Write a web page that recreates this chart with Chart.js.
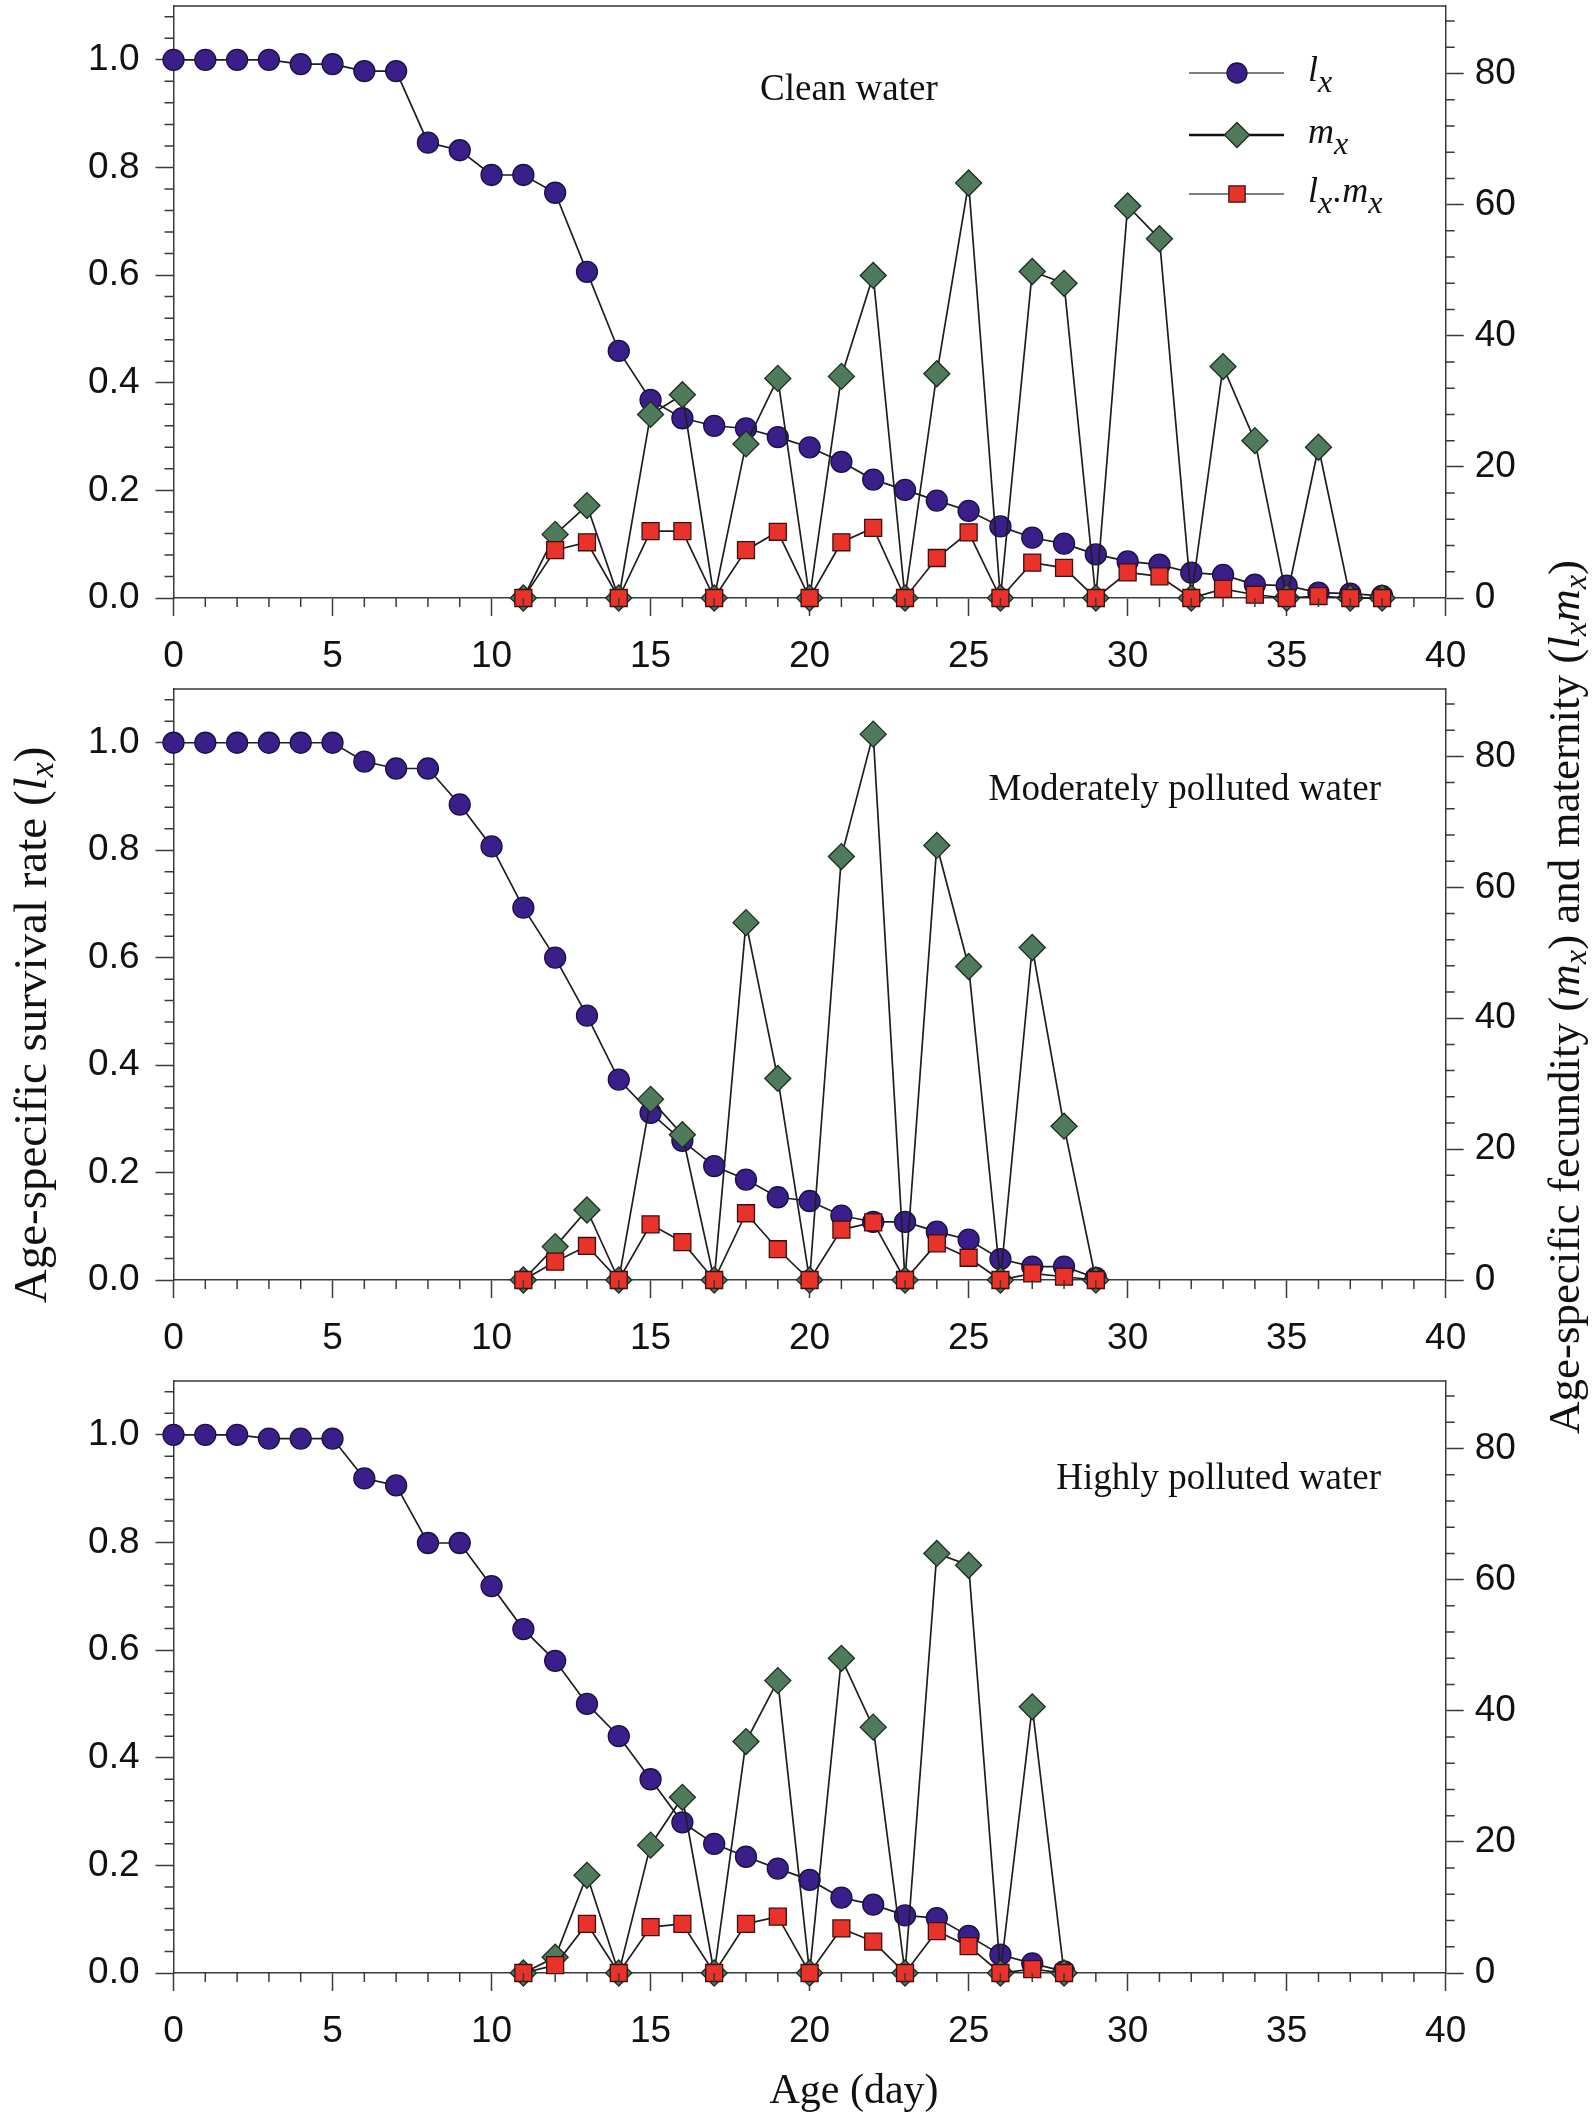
<!DOCTYPE html>
<html lang="en">
<head>
<meta charset="UTF-8">
<title>Age-specific survival, fecundity and maternity</title>
<script src="https://cdn.jsdelivr.net/npm/chart.js@4"></script>
<style>
  body { margin: 0; background: #fff; }
  #page { position: relative; width: 1594px; height: 2119px; background: #fff; overflow: hidden; }
  canvas.panel { position: absolute; left: 0; }
  .title { position: absolute; font-family: "Liberation Serif", "Times New Roman", serif; color: #111;
           white-space: nowrap; text-align: center; height: 50px; line-height: 50px; }
  .title sub { font-size: 0.72em; vertical-align: -0.22em; line-height: 0; }
  .rot { transform: rotate(-90deg); transform-origin: 50% 50%; }
</style>
</head>
<body>
<div id="page">
  <canvas id="c1" class="panel" width="1594" height="734" style="top:-34px"></canvas>
  <canvas id="c2" class="panel" width="1594" height="733" style="top:649px"></canvas>
  <canvas id="c3" class="panel" width="1594" height="733" style="top:1341px"></canvas>

  <div class="title" style="left:654px; top:2064px; width:400px; font-size:42px;">Age (day)</div>
  <div class="title rot" style="left:-420px; top:1000px; width:900px; font-size:47px;">Age-specific survival rate (<i>l<sub>x</sub></i>)</div>
  <div class="title rot" style="left:1114px; top:972px; width:900px; font-size:45px;">Age-specific fecundity (<i>m<sub>x</sub></i>) and maternity (<i>l<sub>x</sub>m<sub>x</sub></i>)</div>
</div>

<script>
// ---- data: clean water ----
const ages1 = [0,1,2,3,4,5,6,7,8,9,10,11,12,13,14,15,16,17,18,19,20,21,22,23,24,25,26,27,28,29,30,31,32,33,34,35,36,37,38];
const lx1 = [1.0,1.0,1.0,1.0,0.992,0.992,0.979,0.979,0.846,0.832,0.786,0.786,0.753,0.606,0.459,0.368,0.334,0.320,0.315,0.299,
             0.280,0.253,0.220,0.201,0.181,0.162,0.133,0.112,0.101,0.081,0.068,0.062,0.047,0.043,0.025,0.023,0.010,0.008,0.004];
const repAges1 = [11,12,13,14,15,16,17,18,19,20,21,22,23,24,25,26,27,28,29,30,31,32,33,34,35,36,37,38];
const mx1 = [0,9.7,14.1,0,28.0,31.0,0,23.5,33.5,0,33.8,49.2,0,34.2,63.3,0,49.8,48.0,0,59.8,54.8,0,35.3,24.0,0,23.0,0,0];
const lxmx1 = [0,7.3,8.5,0,10.2,10.2,0,7.3,10.1,0,8.5,10.7,0,6.1,10.0,0,5.4,4.6,0,3.9,3.3,0,1.4,0.5,0,0.3,0,0];

// ---- data: moderately polluted water ----
const ages2 = [0,1,2,3,4,5,6,7,8,9,10,11,12,13,14,15,16,17,18,19,20,21,22,23,24,25,26,27,28,29];
const lx2 = [1.0,1.0,1.0,1.0,1.0,1.0,0.965,0.952,0.952,0.885,0.807,0.693,0.600,0.492,0.373,0.311,0.259,0.212,0.187,0.154,
             0.147,0.120,0.108,0.108,0.090,0.075,0.039,0.025,0.025,0.004];
const repAges2 = [11,12,13,14,15,16,17,18,19,20,21,22,23,24,25,26,27,28,29];
const mx2 = [0,5.1,10.7,0,27.6,22.2,0,54.6,30.8,0,64.7,83.4,0,66.4,47.9,0,50.8,23.5,0];
const lxmx2 = [0,2.8,5.2,0,8.5,5.8,0,10.2,4.7,0,7.7,8.8,0,5.6,3.4,0,1.0,0.5,0];

// ---- data: highly polluted water ----
const ages3 = [0,1,2,3,4,5,6,7,8,9,10,11,12,13,14,15,16,17,18,19,20,21,22,23,24,25,26,27,28];
const lx3 = [1.0,1.0,1.0,0.993,0.993,0.993,0.919,0.906,0.799,0.799,0.719,0.639,0.580,0.500,0.440,0.360,0.280,0.240,0.216,0.194,
             0.173,0.140,0.127,0.107,0.102,0.069,0.034,0.018,0.003];
const repAges3 = [11,12,13,14,15,16,17,18,19,20,21,22,23,24,25,26,27,28];
const mx3 = [0,2.4,14.9,0,19.5,26.8,0,35.3,44.6,0,48.0,37.5,0,64.0,62.2,0,40.6,0];
const lxmx3 = [0,1.2,7.5,0,7.0,7.5,0,7.5,8.6,0,6.8,4.8,0,6.4,4.1,0,0.6,0];

// ---- styles ----
const frameColor = '#3a3a3a';
const lineColor = '#1e1e1e';
const circleFill = '#3a1f8a', circleEdge = '#1a0f45';
const diamondFill = '#4f7b5c', diamondEdge = '#1c2e20';
const squareFill = '#e8322a', squareEdge = '#3d1010';
const tickFont = { family: '"Liberation Sans", Arial, sans-serif', size: 37 };
const serif = '"Liberation Serif", "Times New Roman", serif';
const PAD_TOP = 40; // fixed top padding, so the plot box does not move with label sizes

// text like l_x . m_x with italic subscripts
function drawSubText(ctx, parts, x, y) {
  for (const [t, sub] of parts) {
    ctx.font = sub ? 'italic 32px ' + serif : 'italic 36px ' + serif;
    ctx.fillText(t, x, sub ? y + 11 : y);
    x += ctx.measureText(t).width + (sub ? 1 : 0);
  }
}

// top frame, minor ticks, panel caption, legend
const decoPlugin = {
  id: 'deco',
  afterDraw(chart, args, opts) {
    const { ctx, chartArea: a, scales } = chart;
    const off = opts.top; // page y of the canvas
    ctx.save();
    ctx.strokeStyle = frameColor;
    ctx.lineWidth = 1.5;
    ctx.beginPath();
    ctx.moveTo(a.left, a.top); ctx.lineTo(a.right, a.top);
    for (let d = 1; d < 40; d++) {
      if (d % 5 === 0) continue;
      const x = scales.x.getPixelForValue(d);
      ctx.moveTo(x, a.bottom); ctx.lineTo(x, a.bottom + 9);
    }
    for (let i = 1; i <= 27; i++) {
      if (i % 5 === 0) continue;
      const y = scales.y.getPixelForValue(i * 0.04);
      ctx.moveTo(a.left, y); ctx.lineTo(a.left - 9, y);
    }
    for (let v = 4; v <= 88; v += 4) {
      if (v % 20 === 0) continue;
      const y = scales.y2.getPixelForValue(v);
      ctx.moveTo(a.right, y); ctx.lineTo(a.right + 9, y);
    }
    ctx.stroke();

    // caption
    ctx.fillStyle = '#111';
    ctx.font = '37px ' + serif;
    ctx.textBaseline = 'alphabetic';
    ctx.textAlign = opts.align;
    ctx.fillText(opts.caption, opts.cx, opts.cy - off);

    if (opts.legend) {
      const rows = [
        { y: 73, style: 'circle', fill: circleFill, edge: circleEdge, r: 10, lw: 1.5, col: '#555', text: [['l', 0], ['x', 1]] },
        { y: 135, style: 'rectRot', fill: diamondFill, edge: diamondEdge, r: 12.5, lw: 2.5, col: '#111', text: [['m', 0], ['x', 1]] },
        { y: 194, style: 'rect', fill: squareFill, edge: squareEdge, r: 11.5, lw: 1.5, col: '#555', text: [['l', 0], ['x', 1], ['.', 0], ['m', 0], ['x', 1]] }
      ];
      ctx.textAlign = 'left';
      for (const row of rows) {
        const y = row.y - off;
        ctx.strokeStyle = row.col;
        ctx.lineWidth = row.lw;
        ctx.beginPath();
        ctx.moveTo(1189, y); ctx.lineTo(1284, y);
        ctx.stroke();
        ctx.fillStyle = row.fill;
        ctx.strokeStyle = row.edge;
        ctx.lineWidth = 1.3;
        Chart.helpers.drawPoint(ctx, { pointStyle: row.style, radius: row.r, rotation: 0, borderWidth: 1.3 }, 1237, y);
        ctx.fillStyle = '#111';
        drawSubText(ctx, row.text, 1308, y + 8);
      }
    }
    ctx.restore();
  }
};

function pts(xs, ys) { return xs.map((x, i) => ({ x: x, y: ys[i] })); }

function makePanel(id, ages, lx, repAges, mx, lxmx, deco, xHeight) {
  return new Chart(document.getElementById(id), {
    type: 'line',
    data: {
      datasets: [
        { label: 'lx', data: pts(ages, lx), yAxisID: 'y', order: 3, clip: false,
          borderColor: lineColor, borderWidth: 1.7, pointStyle: 'circle', pointRadius: 10.5,
          pointBackgroundColor: circleFill, pointBorderColor: circleEdge, pointBorderWidth: 1.3 },
        { label: 'mx', data: pts(repAges, mx), yAxisID: 'y2', order: 2, clip: false,
          borderColor: lineColor, borderWidth: 1.7, pointStyle: 'rectRot', pointRadius: 13,
          pointBackgroundColor: diamondFill, pointBorderColor: diamondEdge, pointBorderWidth: 1.3 },
        { label: 'lx.mx', data: pts(repAges, lxmx), yAxisID: 'y2', order: 1, clip: false,
          borderColor: lineColor, borderWidth: 1.7, pointStyle: 'rect', pointRadius: 12,
          pointBackgroundColor: squareFill, pointBorderColor: squareEdge, pointBorderWidth: 1.3 }
      ]
    },
    options: {
      responsive: false,
      animation: false,
      events: [],
      layout: { padding: { top: PAD_TOP, left: 0, right: 0, bottom: 0 } },
      plugins: { legend: { display: false }, tooltip: { enabled: false }, deco: deco },
      scales: {
        x: {
          type: 'linear', position: 'bottom', min: 0, max: 40,
          ticks: { stepSize: 5, includeBounds: false, font: tickFont, color: '#111', padding: 19, maxRotation: 0 },
          grid: { drawOnChartArea: false, tickLength: 18, tickColor: frameColor, tickWidth: 1.5 },
          border: { color: frameColor, width: 1.5 },
          afterFit(s) { s.height = xHeight; }
        },
        y: {
          type: 'linear', position: 'left', min: 0, max: 1.1,
          ticks: { stepSize: 0.2, includeBounds: false, font: tickFont, color: '#111', padding: 16,
                   callback: v => v.toFixed(1) },
          grid: { drawOnChartArea: false, tickLength: 18, tickColor: frameColor, tickWidth: 1.5 },
          border: { color: frameColor, width: 1.5 },
          afterFit(s) { s.width = 173.5; }
        },
        y2: {
          type: 'linear', position: 'right', min: 0, max: 90.3,
          ticks: { stepSize: 20, includeBounds: false, font: tickFont, color: '#111', padding: 11 },
          grid: { drawOnChartArea: false, tickLength: 18, tickColor: frameColor, tickWidth: 1.5 },
          border: { color: frameColor, width: 1.5 },
          afterFit(s) { s.width = 148.3; }
        }
      }
    },
    plugins: [decoPlugin]
  });
}

makePanel('c1', ages1, lx1, repAges1, mx1, lxmx1,
  { top: -34, caption: 'Clean water', align: 'left', cx: 760, cy: 100, legend: true }, 102);
makePanel('c2', ages2, lx2, repAges2, mx2, lxmx2,
  { top: 649, caption: 'Moderately polluted water', align: 'right', cx: 1381, cy: 800, legend: false }, 102);
makePanel('c3', ages3, lx3, repAges3, mx3, lxmx3,
  { top: 1341, caption: 'Highly polluted water', align: 'right', cx: 1381, cy: 1489, legend: false }, 101);
</script>
</body>
</html>
